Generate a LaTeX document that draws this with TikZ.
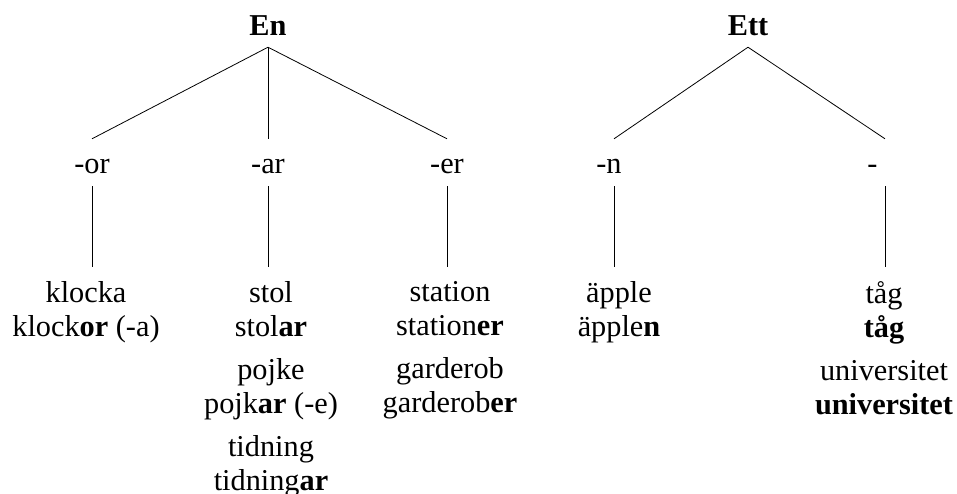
\documentclass[tikz,border=0pt]{standalone}
\usepackage{fontspec}
\setmainfont{Liberation Serif}
\begin{document}
\begin{tikzpicture}[x=1pt,y=-1pt,
  head/.style={font=\fontsize{30.3}{34.5}\selectfont\bfseries, inner xsep=0pt, inner ysep=12pt, text depth=0pt, anchor=base},
  suffix/.style={font=\fontsize{30.3}{34.5}\selectfont, inner sep=0pt, text height=34pt, text depth=13pt, anchor=base},
  words/.style={font=\fontsize{30.3}{34.5}\selectfont, align=center, inner xsep=0pt, inner ysep=14pt, anchor=north}]
\useasboundingbox (0,0) rectangle (957,493);
\node[head] (1) at (268,35) {En};
\node[head] (2) at (748,35) {Ett};
\node[suffix] (3) at (92,173) {-or};
\node[suffix] (4) at (268,173) {-ar};
\node[suffix] (5) at (447,173) {-er};
\node[suffix] (6) at (614,173) {-n\hphantom{-}};
\node[suffix] (7) at (885,173) {-\hphantom{-n}};
\node[words] (8) at (86,267) {klocka\\klock\textbf{or} (-a)};
\node[words] (9) at (271,267) {stol\\stol\textbf{ar}\\[8pt]pojke\\pojk\textbf{ar} (-e)\\[8pt]tidning\\tidning\textbf{ar}};
\node[words] (10) at (450,267) {station\\station\textbf{er}\\[8pt]garderob\\garderob\textbf{er}};
\node[words] (11) at (619,267) {äpple\\äpple\textbf{n}};
\node[words] (12) at (884,267) {tåg\\\textbf{tåg}\\[8pt]universitet\\\textbf{universitet}};

\path[draw,thick,-] (1.south) -- (3.north);
\path[draw,thick,-] (1.south) -- (4.north);
\path[draw,thick,-] (1.south) -- (5.north);
\path[draw,thick,-] (2.south) -- (6.north);
\path[draw,thick,-] (2.south) -- (7.north);
\path[draw,thick,-] (3.south) -- (3.south |- 8.north);
\path[draw,thick,-] (4.south) -- (4.south |- 9.north);
\path[draw,thick,-] (5.south) -- (5.south |- 10.north);
\path[draw,thick,-] (6.south) -- (6.south |- 11.north);
\path[draw,thick,-] (7.south) -- (7.south |- 12.north);
\end{tikzpicture}
\end{document}
